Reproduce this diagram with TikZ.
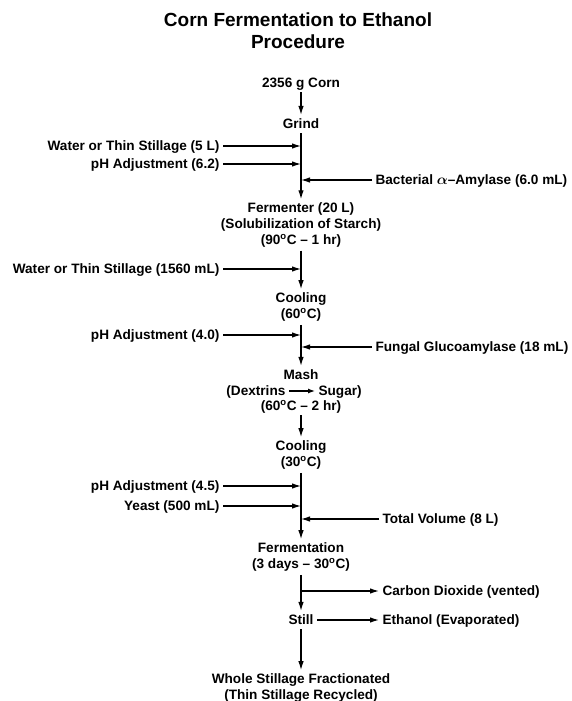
\documentclass[tikz,border=0pt]{standalone}
\usepackage{fontspec}
\setmainfont{Liberation Sans}
\usetikzlibrary{arrows.meta}
\tikzset{
  >={Latex[length=9pt,width=5.5pt]},
  stage/.style={align=center,inner sep=3pt},
  feed/.style={inner sep=3pt,text height=10pt,text depth=1pt},
}
\begin{document}
\begin{tikzpicture}[x=1pt,y=-1pt,line width=1.2pt,font=\bfseries\fontsize{13.6}{15.8}\selectfont]
        \useasboundingbox (0,0) rectangle (572,701);
        \def\c{301}
        \def\l{223}
        \node [stage,font=\bfseries\fontsize{19}{22}\selectfont] (T0) at (298,31) {Corn Fermentation to Ethanol\\Procedure};
        \node [feed] (corn) at (\c,83) {2356 g Corn};
        \node [feed] (grind) at (\c,124) {Grind};
        \node [stage] (ferm) at (\c,225) {Fermenter (20 L)\\(Solubilization of Starch)\\(90\textsuperscript{o}C -- 1 hr)};
        \node [stage] (cool1) at (\c,307) {Cooling\\(60\textsuperscript{o}C)};
        \node [feed] (mash) at (\c,375) {Mash};
        \node [feed,anchor=east] (dex) at (\c-12,391) {(Dextrins};
        \node [feed,anchor=west] (sugar) at (\c+14,391) {Sugar)};
        \node [feed] (mashT) at (\c,406) {(60\textsuperscript{o}C -- 2 hr)};
        \node [stage] (cool2) at (\c,455) {Cooling\\(30\textsuperscript{o}C)};
        \node [stage] (fermt) at (\c,557) {Fermentation\\(3 days -- 30\textsuperscript{o}C)};
        \node [feed] (still) at (\c,620) {Still};
        \node [stage] (whole) at (\c,688) {Whole Stillage Fractionated\\(Thin Stillage Recycled)};
        \node [feed,anchor=east] (W0) at (\l,146) {Water or Thin Stillage (5 L)};
        \node [feed,anchor=east] (P0) at (\l,164) {pH Adjustment (6.2)};
        \node [feed,anchor=west] (B0) at (372,180) {Bacterial {\boldmath$\alpha$}--Amylase (6.0 mL)};
        \node [feed,anchor=east] (W1) at (\l,269) {Water or Thin Stillage (1560 mL)};
        \node [feed,anchor=east] (P1) at (\l,335) {pH Adjustment (4.0)};
        \node [feed,anchor=west] (F1) at (372,347) {Fungal Glucoamylase (18 mL)};
        \node [feed,anchor=east] (P2) at (\l,486) {pH Adjustment (4.5)};
        \node [feed,anchor=east] (Y2) at (\l,506) {Yeast (500 mL)};
        \node [feed,anchor=west] (V2) at (379,519) {Total Volume (8 L)};
        \node [feed,anchor=west] (C3) at (379,591) {Carbon Dioxide (vented)};
        \node [feed,anchor=west] (E3) at (379,620) {Ethanol (Evaporated)};
        \coordinate (J0_0) at (\c,146);
        \coordinate (J0_1) at (\c,164);
        \coordinate (J0_2) at (\c,180);
        \coordinate (J1_0) at (\c,269);
        \coordinate (J2_0) at (\c,335);
        \coordinate (J2_1) at (\c,347);
        \coordinate (J3_0) at (\c,486);
        \coordinate (J3_1) at (\c,506);
        \coordinate (J3_2) at (\c,519);
        \coordinate (J4_0) at (\c,591);
        \path (corn) edge [->] (grind);
        \path (grind) edge [->] (ferm);
        \path (ferm) edge [->] (cool1);
        \path (cool1) edge [->] (mash);
        \path (mashT) edge [->] (cool2);
        \path (cool2) edge [->] (fermt);
        \path (fermt) edge [->] (still);
        \path (still) edge [->] (whole);
        \path (dex) edge [-{Latex[length=7pt,width=5pt]}] (sugar);
        \path (W0) edge [->] (J0_0);
        \path (P0) edge [->] (J0_1);
        \path (B0) edge [->] (J0_2);
        \path (W1) edge [->] (J1_0);
        \path (P1) edge [->] (J2_0);
        \path (F1) edge [->] (J2_1);
        \path (P2) edge [->] (J3_0);
        \path (Y2) edge [->] (J3_1);
        \path (V2) edge [->] (J3_2);
        \path (J4_0) edge [->] (C3);
        \path (still) edge [->] (E3);
      \end{tikzpicture}
\end{document}
